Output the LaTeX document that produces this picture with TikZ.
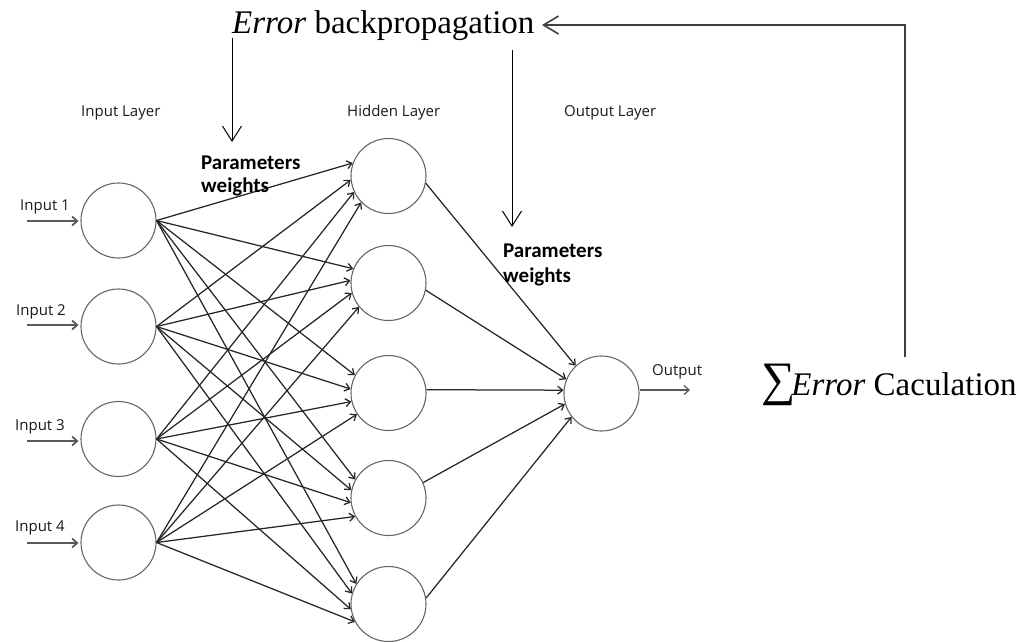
\documentclass[tikz,border=0pt]{standalone}
\usepackage{fontspec}
\setmainfont{Liberation Serif}
\newfontfamily\labfont{Open Sans}
\newfontfamily\parfont{Carlito}
\usetikzlibrary{arrows.meta}
\begin{document}
\begin{tikzpicture}[x=1pt,y=-1pt,
  neuron/.style={circle, draw=black!60, line width=1.1pt, minimum size=75pt, inner sep=0pt},
  edge/.style={draw=black!85, line width=1.25pt, -{Straight Barb[length=5pt,width=8pt]}},
  inarrow/.style={draw=black!65, line width=1.8pt, -{Straight Barb[length=5pt,width=9pt]}},
  bigarrow/.style={draw=black, line width=1pt, -{Straight Barb[length=15pt,width=19pt]}},
  fbline/.style={draw=black!75, line width=1.6pt},
  lab/.style={anchor=base west, inner sep=0pt, text=black!90, font=\labfont\fontsize{15}{15}\selectfont},
  partxt/.style={anchor=base west, inner sep=0pt, font=\parfont\bfseries\fontsize{21}{21}\selectfont},
  bigtxt/.style={anchor=base west, inner sep=0pt, font=\fontsize{33}{33}\selectfont}]
\useasboundingbox (0,0) rectangle (1025,641);

% neurons
\node[neuron] (i1) at (118.5,220.5) {};
\node[neuron] (i2) at (118.5,326.5) {};
\node[neuron] (i3) at (118.5,439) {};
\node[neuron] (i4) at (118.5,542.5) {};
\node[neuron] (h1) at (388.5,176) {};
\node[neuron] (h2) at (388.5,283) {};
\node[neuron] (h3) at (388.5,393) {};
\node[neuron] (h4) at (388.5,498) {};
\node[neuron] (h5) at (388.5,604) {};
\node[neuron] (o) at (601.5,393.5) {};

% layer labels
\node[lab] (linl) at (81,116) {Input Layer};
\node[lab] (lhid) at (347,116) {Hidden Layer};
\node[lab] (lout) at (564,116) {Output Layer};

% input labels and arrows
\node[lab] (t1) at (20,210) {Input 1};
\node[lab] (t2) at (16,315) {Input 2};
\node[lab] (t3) at (15,430) {Input 3};
\node[lab] (t4) at (15,531) {Input 4};
\coordinate (in1) at (27,221);
\coordinate (in2) at (27,325);
\coordinate (in3) at (27,441);
\coordinate (in4) at (27,543);
\foreach \k in {1,2,3,4}
  \draw[inarrow, shorten >=2pt] (in\k) -- (in\k -| i\k.west);

% input -> hidden
\foreach \h/\a/\b/\c/\d in {h1/160/186/205/224, h2/158/176/195/219, h3/152/174/193/214, h4/151/168/187/209, h5/148/164/188/208} {
  \draw[edge] (i1.east) -- (\h.\a);
  \draw[edge] (i2.east) -- (\h.\b);
  \draw[edge] (i3.east) -- (\h.\c);
  \draw[edge] (i4.east) -- (\h.\d);
}

% hidden -> output
\draw[edge] (h1.-11) -- (o.133);
\draw[edge] (h2.-11) -- (o.158);
\draw[edge] (h3.5) -- (o.175);
\draw[edge] (h4.24) -- (o.196);
\draw[edge] (h5.9) -- (o.218);

% output
\coordinate (outend) at (690,390);
\draw[inarrow, line width=1.3pt] (outend -| o.east) -- (outend);
\node[lab] (tout) at (652,375) {Output};

% parameters labels
\node[partxt] (p1a) at (201,169) {Parameters};
\node[partxt] (p1b) at (201,192) {weights};
\node[partxt] (p2a) at (503,257) {Parameters};
\node[partxt] (p2b) at (503,282) {weights};

% error texts
\node[bigtxt] (title) at (232,33) {\textit{Error} backpropagation};
\node[bigtxt] (sum) at (761,395) {{\fontsize{48}{48}\selectfont ∑}\kern-4pt\textit{Error} Caculation};

% feedback arrows
\coordinate (fb) at (905,357);
\coordinate (tip) at (542,25);
\draw[fbline, -{Straight Barb[length=15pt,width=18pt]}] (fb) |- (tip);
\coordinate (d1s) at (232,38);
\coordinate (d1e) at (232,142);
\coordinate (d2s) at (512,50);
\coordinate (d2e) at (512,227);
\draw[bigarrow] (d1s) -- (d1e);
\draw[bigarrow] (d2s) -- (d2e);
\end{tikzpicture}
\end{document}
